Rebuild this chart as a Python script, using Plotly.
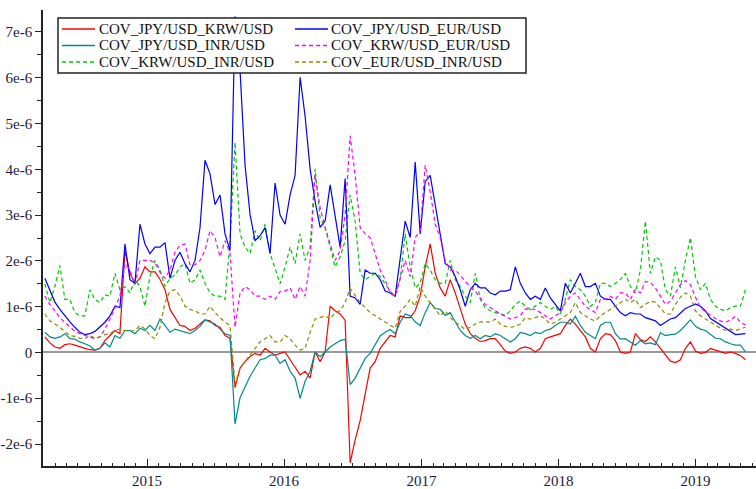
import pandas as pd
import plotly.graph_objects as go

# Sample dates (about every two weeks), April 2014 - May 2019
dates = pd.date_range("2014-04-04", "2019-05-14", periods=141)

# Conditional covariances, in units of 1e-6
cov_jpy_krw = [
    0.34, 0.21, 0.12, 0.09, 0.17, 0.19, 0.16, 0.12, 0.09, 0.06,
    0.05, 0.09, 0.26, 0.37, 0.48, 0.41, 2.23, 1.73, 1.51, 1.62,
    1.87, 1.76, 1.76, 1.60, 1.37, 0.94, 0.76, 0.59, 0.57, 0.48,
    0.53, 0.62, 0.71, 0.69, 0.59, 0.55, 0.37, 0.31, -0.77, -0.34,
    -0.20, -0.09, -0.02, -0.06, 0.09, 0.01, -0.06, -0.02, 0.01, -0.16,
    -0.34, -0.49, -0.41, -0.56, 0.01, -0.20, 0.01, 1.01, 0.91, 0.84,
    0.70, -2.41, -1.91, -1.49, -0.91, -0.34, -0.20, 0.09, 0.23, 0.37,
    0.34, 0.80, 0.76, 0.76, 0.91, 1.23, 1.87, 2.37, 1.73, 1.41,
    1.23, 1.59, 1.30, 0.94, 0.62, 0.41, 0.31, 0.24, 0.26, 0.30,
    0.30, 0.17, 0.03, -0.02, 0.01, 0.09, 0.12, 0.09, 0.01, 0.09,
    0.30, 0.34, 0.37, 0.41, 0.59, 0.73, 0.62, 0.48, 0.34, 0.09,
    0.01, 0.30, 0.41, 0.39, 0.26, 0.01, -0.02, 0.01, 0.41, 0.28,
    0.24, 0.34, 0.23, 0.09, -0.04, -0.19, -0.22, -0.16, 0.09, 0.23,
    0.03, -0.02, 0.00, 0.09, 0.05, 0.01, -0.02, 0.01, -0.02, -0.07,
    -0.16,
]

cov_jpy_eur = [
    1.62, 1.37, 1.10, 0.94, 0.80, 0.67, 0.55, 0.44, 0.39, 0.41,
    0.46, 0.55, 0.66, 0.80, 1.01, 0.98, 2.37, 1.59, 1.51, 2.80,
    2.37, 2.16, 2.30, 2.30, 2.40, 1.62, 2.01, 2.19, 1.94, 1.76,
    2.01, 2.73, 4.20, 3.90, 3.23, 3.44, 2.59, 2.23, 7.34, 6.16,
    4.09, 3.01, 2.44, 2.55, 2.73, 2.16, 3.70, 3.00, 2.80, 3.44,
    3.87, 6.01, 5.16, 4.01, 3.30, 2.73, 2.87, 3.66, 3.01, 2.30,
    3.80, 1.23, 1.19, 1.05, 1.80, 1.73, 1.73, 1.59, 1.34, 1.30,
    1.23, 2.00, 2.87, 2.51, 4.16, 2.59, 3.73, 3.87, 3.23, 2.51,
    1.94, 1.87, 1.66, 1.37, 1.01, 1.37, 1.51, 1.41, 1.41, 1.30,
    1.26, 1.34, 1.34, 1.37, 1.87, 1.51, 1.30, 1.16, 1.23, 1.16,
    1.41, 1.19, 1.05, 0.91, 1.51, 1.30, 1.51, 1.73, 1.44, 1.44,
    1.51, 1.23, 1.16, 1.16, 1.01, 0.87, 0.80, 0.87, 0.84, 0.84,
    0.76, 0.73, 0.69, 0.59, 0.67, 0.73, 0.76, 0.86, 0.96, 1.01,
    1.06, 1.01, 0.91, 0.74, 0.67, 0.60, 0.53, 0.46, 0.39, 0.40,
    0.41,
]

cov_jpy_inr = [
    0.44, 0.34, 0.31, 0.34, 0.41, 0.30, 0.29, 0.23, 0.19, 0.14,
    0.05, 0.09, 0.21, 0.12, 0.37, 0.31, 0.48, 0.48, 0.41, 0.53,
    0.48, 0.59, 0.48, 0.73, 0.59, 0.44, 0.51, 0.48, 0.44, 0.41,
    0.48, 0.57, 0.71, 0.66, 0.62, 0.51, 0.41, 0.37, -1.56, -0.99,
    -0.77, -0.52, -0.34, -0.16, -0.13, -0.06, -0.06, -0.24, -0.16, -0.41,
    -0.56, -1.00, -0.63, -0.41, 0.01, -0.09, 0.01, 0.12, 0.19, 0.26,
    0.29, -0.70, -0.56, -0.34, -0.13, -0.02, 0.16, 0.36, 0.44, 0.50,
    0.41, 0.66, 0.84, 0.80, 0.67, 0.59, 0.87, 1.09, 0.96, 0.94,
    0.81, 0.87, 0.67, 0.48, 0.37, 0.31, 0.37, 0.30, 0.37, 0.34,
    0.41, 0.37, 0.30, 0.23, 0.30, 0.44, 0.41, 0.37, 0.44, 0.41,
    0.48, 0.51, 0.59, 0.66, 0.66, 0.62, 0.79, 0.59, 0.44, 0.37,
    0.30, 0.59, 0.66, 0.66, 0.41, 0.29, 0.30, 0.23, 0.16, 0.26,
    0.19, 0.21, 0.17, 0.43, 0.37, 0.39, 0.40, 0.48, 0.59, 0.71,
    0.57, 0.51, 0.48, 0.39, 0.31, 0.30, 0.23, 0.19, 0.16, 0.16,
    0.01,
]

cov_krw_eur = [
    1.23, 1.05, 0.91, 0.76, 0.66, 0.55, 0.46, 0.41, 0.37, 0.34,
    0.30, 0.34, 0.51, 0.73, 0.98, 1.23, 1.94, 1.80, 1.48, 2.01,
    2.01, 2.01, 1.96, 1.75, 1.62, 1.80, 2.19, 2.34, 2.37, 1.91,
    1.91, 2.01, 2.23, 2.66, 2.51, 2.09, 2.44, 2.16, 0.55, 1.30,
    1.44, 1.37, 1.23, 1.23, 1.16, 1.23, 1.16, 1.33, 1.34, 1.41,
    1.16, 1.44, 1.23, 2.01, 3.87, 3.16, 2.73, 2.37, 2.01, 2.23,
    3.01, 4.73, 3.87, 2.73, 2.59, 2.51, 2.16, 1.80, 1.59, 1.30,
    1.23, 1.60, 2.01, 1.66, 2.51, 2.66, 4.09, 3.51, 2.80, 2.51,
    2.01, 1.80, 1.80, 1.69, 1.55, 1.44, 1.34, 1.19, 1.05, 0.98,
    0.91, 0.84, 0.79, 0.73, 0.76, 0.80, 0.95, 0.94, 0.94, 0.87,
    0.80, 0.73, 0.80, 0.87, 1.09, 1.23, 1.30, 1.16, 1.01, 0.94,
    0.87, 1.16, 1.16, 1.23, 1.16, 1.30, 1.30, 1.16, 1.37, 1.30,
    1.55, 1.53, 1.41, 1.23, 1.05, 1.12, 1.29, 1.48, 1.57, 1.48,
    1.21, 0.98, 0.89, 0.81, 0.74, 0.69, 0.66, 0.71, 0.79, 0.66,
    0.60,
]

cov_krw_inr = [
    1.50, 1.09, 1.44, 1.90, 1.16, 1.16, 0.87, 0.80, 0.80, 1.37,
    1.16, 1.09, 1.26, 1.23, 1.73, 1.37, 1.44, 1.30, 1.59, 1.44,
    1.01, 1.66, 2.01, 1.80, 1.44, 1.62, 1.69, 1.87, 1.94, 1.51,
    1.59, 1.80, 1.51, 1.30, 1.23, 1.23, 1.16, 2.44, 4.59, 2.59,
    2.30, 2.16, 2.66, 2.44, 2.80, 2.16, 1.84, 1.50, 1.87, 2.30,
    1.94, 2.59, 2.01, 2.30, 4.01, 2.94, 2.73, 2.30, 1.87, 2.09,
    2.44, 3.44, 2.87, 1.73, 1.59, 1.66, 1.73, 1.66, 1.51, 1.34,
    1.23, 1.60, 2.59, 1.87, 1.41, 1.51, 1.94, 1.80, 1.59, 1.51,
    1.51, 2.01, 1.59, 1.44, 1.23, 1.09, 1.73, 1.16, 0.98, 0.91,
    0.87, 0.84, 0.81, 0.91, 1.05, 1.12, 1.01, 0.94, 1.01, 1.09,
    1.01, 0.94, 1.01, 0.84, 1.16, 1.59, 1.44, 1.37, 1.23, 1.01,
    1.09, 1.51, 1.51, 1.44, 1.51, 1.59, 1.73, 1.44, 1.30, 1.80,
    2.87, 1.73, 2.09, 2.01, 1.37, 1.23, 1.87, 1.41, 2.01, 2.51,
    1.66, 1.37, 1.51, 1.16, 1.01, 0.94, 0.91, 0.98, 1.01, 1.01,
    1.37,
]

cov_eur_inr = [
    0.84, 0.69, 0.62, 0.55, 0.46, 0.37, 0.35, 0.31, 0.30, 0.37,
    0.31, 0.34, 0.39, 0.41, 0.48, 0.51, 0.48, 0.46, 0.48, 0.59,
    0.51, 0.37, 0.30, 0.55, 1.09, 1.34, 1.37, 1.23, 1.01, 0.94,
    0.91, 0.84, 0.84, 1.01, 0.87, 0.76, 0.66, 0.59, -0.70, -0.34,
    -0.20, -0.06, 0.09, 0.23, 0.30, 0.37, 0.23, 0.23, 0.37, 0.30,
    0.16, 0.05, 0.09, 0.44, 0.73, 0.76, 0.80, 0.73, 0.87, 0.91,
    1.09, 1.40, 1.23, 1.09, 0.98, 0.87, 0.80, 0.73, 0.66, 0.59,
    0.53, 0.90, 1.01, 1.16, 1.01, 1.44, 1.23, 1.09, 0.94, 0.80,
    0.91, 0.76, 0.66, 0.59, 0.50, 0.55, 0.62, 0.67, 0.67, 0.66,
    0.73, 0.62, 0.57, 0.55, 0.57, 0.62, 0.76, 0.73, 0.76, 0.80,
    0.73, 0.62, 0.66, 0.73, 0.80, 0.87, 1.09, 0.87, 0.80, 0.73,
    0.69, 0.80, 0.87, 0.94, 1.01, 1.09, 1.16, 1.09, 1.16, 0.98,
    1.05, 1.12, 1.10, 0.98, 0.84, 0.84, 1.05, 1.21, 1.30, 1.23,
    0.91, 0.80, 0.73, 0.66, 0.59, 0.53, 0.48, 0.51, 0.48, 0.51,
    0.55,
]

# Axis tick values (1e-6 units) and their labels
ytick_vals = [-2, -1, 0, 1, 2, 3, 4, 5, 6, 7]
ytick_text = ["-2e-6", "-1e-6", "0", "1e-6", "2e-6", "3e-6", "4e-6", "5e-6", "6e-6", "7e-6"]
yminor_vals = [-2.5, -1.5, -0.5, 0.5, 1.5, 2.5, 3.5, 4.5, 5.5, 6.5]

SCALE = 1e-6

# name, values, colour, dash pattern, legend column, legend row
series = [
    ("COV_JPY/USD_KRW/USD", cov_jpy_krw, "#FF0000", "solid", 0, 0),
    ("COV_JPY/USD_INR/USD", cov_jpy_inr, "#008B8B", "solid", 0, 1),
    ("COV_KRW/USD_INR/USD", cov_krw_inr, "#00C800", "4px,3px", 0, 2),
    ("COV_JPY/USD_EUR/USD", cov_jpy_eur, "#0000FF", "solid", 1, 0),
    ("COV_KRW/USD_EUR/USD", cov_krw_eur, "#FF00FF", "4px,3px", 1, 1),
    ("COV_EUR/USD_INR/USD", cov_eur_inr, "#8C8C00", "4px,3px", 1, 2),
]

fig = go.Figure()
for name, vals, color, dash, _, _ in series:
    fig.add_trace(go.Scatter(
        x=dates, y=[v * SCALE for v in vals], mode="lines", name=name,
        line=dict(color=color, width=1.2, dash=dash), showlegend=False,
    ))

# Plot-area geometry in pixels, used to place the boxed legend
W, H = 756, 489
ML, MR, MT, MB = 43, 0, 10, 16
PW, PH = W - ML - MR, H - MT - MB


def px(xp):
    return (xp - ML) / PW


def py(yp):
    return (H - MB - yp) / PH


shapes = [dict(type="rect", xref="paper", yref="paper",
               x0=px(58), x1=px(526), y0=py(74), y1=py(18),
               line=dict(color="#222", width=1.5), fillcolor="white", layer="above")]
annotations = []
row_y = [29.2, 46.0, 62.8]
col_line = [(62, 95), (295, 328)]
col_text = [98, 330]
for name, vals, color, dash, col, row in series:
    y = py(row_y[row])
    shapes.append(dict(type="line", xref="paper", yref="paper",
                       x0=px(col_line[col][0]), x1=px(col_line[col][1]), y0=y, y1=y,
                       line=dict(color=color, width=1.5, dash=dash), layer="above"))
    annotations.append(dict(xref="paper", yref="paper", x=px(col_text[col]), y=y,
                            text=name, showarrow=False, xanchor="left", yanchor="middle",
                            borderpad=0,
                            font=dict(family="Liberation Serif", size=15, color="#111")))

tick_font = dict(family="Liberation Serif", size=15, color="#1c1c3c")

fig.update_layout(
    width=W, height=H,
    margin=dict(l=ML, r=MR, t=MT, b=MB, pad=0),
    paper_bgcolor="white", plot_bgcolor="white",
    shapes=shapes, annotations=annotations,
    xaxis=dict(
        type="date", range=["2014-03-30", "2019-06-11"],
        showline=True, linecolor="#222", linewidth=1.5,
        showgrid=False, zeroline=False,
        ticks="inside", ticklen=7, tickwidth=1.2, tickcolor="#222",
        tick0="2015-01-01", dtick="M12", tickformat="%Y",
        tickfont=tick_font,
        minor=dict(ticks="inside", ticklen=3, tickwidth=1, tickcolor="#222",
                   tick0="2015-01-01", dtick="M1", showgrid=False),
    ),
    yaxis=dict(
        range=[-2.48 * SCALE, 7.48 * SCALE],
        showline=True, linecolor="#222", linewidth=1.5,
        showgrid=False,
        zeroline=True, zerolinecolor="#9a9a9a", zerolinewidth=1.5,
        ticks="outside", ticklen=6, tickwidth=1.2, tickcolor="#222",
        tickmode="array", tickvals=[v * SCALE for v in ytick_vals], ticktext=ytick_text,
        tickfont=tick_font,
        minor=dict(ticks="outside", ticklen=4, tickwidth=1, tickcolor="#222",
                   tickmode="array", tickvals=[v * SCALE for v in yminor_vals], showgrid=False),
    ),
)

fig.write_html("out.html")
